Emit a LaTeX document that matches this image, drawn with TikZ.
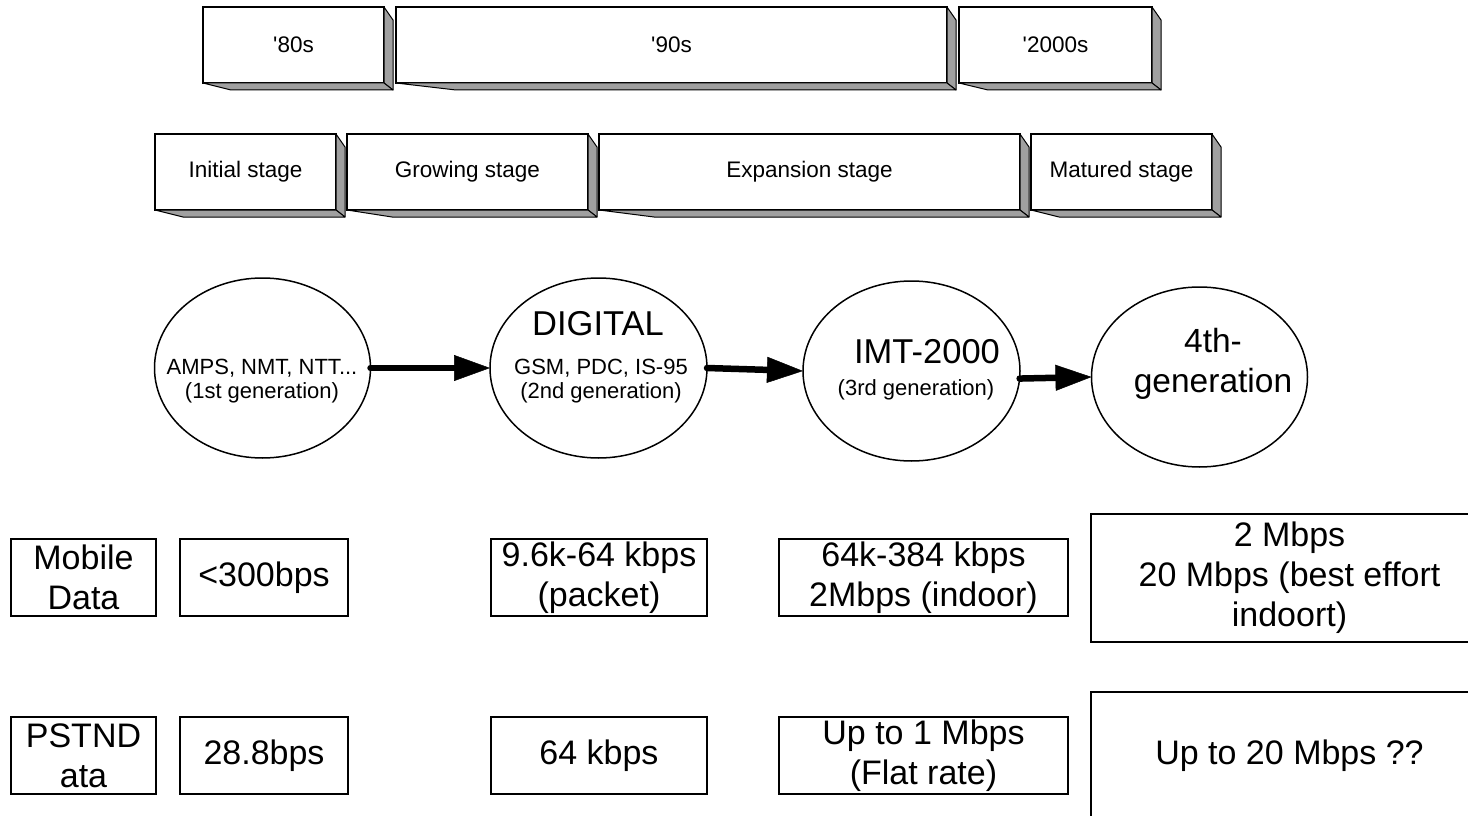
\documentclass[tikz,border=0pt]{standalone}
\usepackage{fontspec}
\newfontfamily\diagfont{Liberation Sans}
\usetikzlibrary{arrows.meta,shapes.geometric}
\definecolor{sidegray}{RGB}{160,160,160}
\tikzset{
  face/.style={draw, line width=1.2pt, fill=white, inner sep=0pt, outer sep=0pt,
    minimum height=76pt, font=\diagfont\fontsize{22.5}{26}\selectfont},
  bevel/.style={fill=sidegray, draw=black, line width=1pt, line join=round},
  gen/.style={draw, ellipse, line width=1.5pt, inner sep=0pt, outer sep=0pt,
    minimum width=216pt, minimum height=180pt},
  gentxt/.style={align=center, inner sep=0pt, font=\diagfont\fontsize{22}{24}\selectfont},
  genbig/.style={align=center, inner sep=0pt, font=\diagfont\fontsize{34.5}{40}\selectfont},
  rate/.style={draw, line width=2pt, inner sep=0pt, outer sep=0pt, minimum height=77pt,
    align=center, font=\diagfont\fontsize{34}{40}\selectfont},
  flow/.style={line width=6.5pt, line cap=round,
    -{Triangle[length=36pt,width=26pt,line width=0.5pt]}}
}
\begin{document}
\begin{tikzpicture}[x=1pt,y=-1pt]
\useasboundingbox (0,0) rectangle (1468,816);
\clip (0,0) rectangle (1468,816);

\node[face, minimum width=181pt] (y80) at (293.5,45) {'80s};
\node[face, minimum width=551pt] (y90) at (671.5,45) {'90s};
\node[face, minimum width=193pt] (y00) at (1055.5,45) {'2000s};

\node[face, minimum width=181pt] (st1) at (245.5,172) {Initial stage};
\node[face, minimum width=241pt] (st2) at (467.5,172) {Growing stage};
\node[face, minimum width=421pt] (st3) at (809.5,172) {Expansion stage};
\node[face, minimum width=181pt] (st4) at (1121.5,172) {Matured stage};

\foreach \b/\d in {y80/28,y90/60,y00/29,st1/28,st2/45,st3/55,st4/28} {
  \draw[bevel] (\b.north east) -- ++(9,13) -- ([shift={(9,7)}]\b.south east)
    -- (\b.south east) -- cycle;
  \draw[bevel] (\b.south west) -- ([shift={(\d,7)}]\b.south west)
    -- ([shift={(9,7)}]\b.south east) -- (\b.south east) -- cycle;
}

\node[gen] (g1) at (262.5,368) {};
\node[gentxt] (g1t) at (262,381) {AMPS, NMT, NTT...\\(1st generation)};
\node[gen, minimum width=217pt] (g2) at (598.5,368) {};
\node[genbig, anchor=base] (g2h) at (598,335) {DIGITAL};
\node[gentxt] (g2t) at (601,381) {GSM, PDC, IS-95\\(2nd generation)};
\node[gen, minimum width=217pt] (g3) at (911.5,371) {};
\node[genbig, anchor=base] (g3h) at (927,363) {IMT-2000};
\node[gentxt, anchor=base] (g3t) at (916,395) {(3rd generation)};
\node[gen] (g4) at (1199.5,377) {};
\node[genbig, font=\diagfont\fontsize{33.5}{40}\selectfont] (g4t) at (1213,363.5) {4th-\\generation};

\draw[flow] (g1.east) -- (g2.west);
\draw[flow] (g2.east) -- (g3.west);
\draw[flow] (g3.-4) -- (g4.west);

\node[rate, minimum width=145pt] (mob) at (83.5,577.5) {Mobile\\Data};
\node[rate, minimum width=168pt] (mob1) at (264,577.5) {<300bps};
\node[rate, minimum width=216pt] (mob2) at (599,577.5) {9.6k-64 kbps\\(packet)};
\node[rate, minimum width=289pt] (mob3) at (923.5,577.5) {64k-384 kbps\\2Mbps (indoor)};
\node[rate, minimum width=397pt, minimum height=128pt] (mob4) at (1289.5,578)
  {2 Mbps\\20 Mbps (best effort\\indoort)};

\node[rate, minimum width=145pt] (pst) at (83.5,755.5) {PSTND\\ata};
\node[rate, minimum width=168pt] (pst1) at (264,755.5) {28.8bps};
\node[rate, minimum width=216pt] (pst2) at (599,755.5) {64 kbps};
\node[rate, minimum width=289pt] (pst3) at (923.5,755.5) {Up to 1 Mbps\\(Flat rate)};
\node[rate, minimum width=397pt, minimum height=140pt, text depth=20pt] (pst4)
  at (1289.5,762) {Up to 20 Mbps ??};
\end{tikzpicture}
\end{document}
